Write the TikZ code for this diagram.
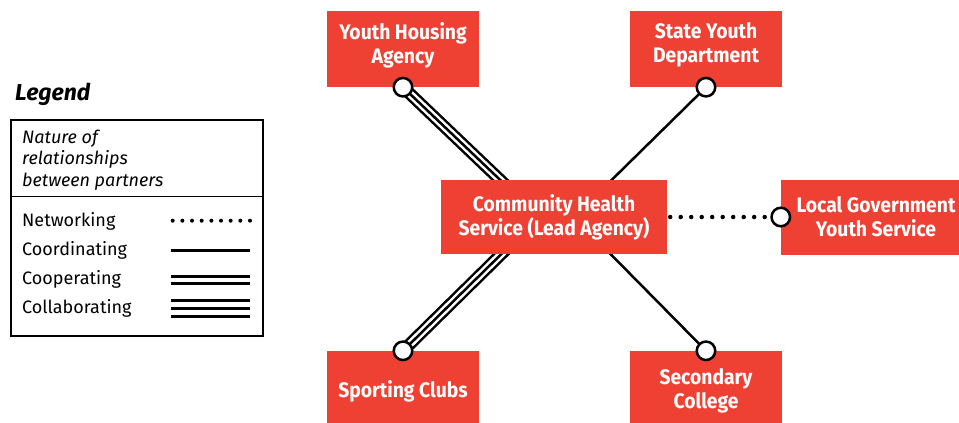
\documentclass[tikz,border=0pt]{standalone}
\usepackage{fontspec}
\setmainfont{Fira Sans}
\newfontfamily\agencyfont{Fira Sans}[FakeStretch=0.92]
\usetikzlibrary{positioning, backgrounds}
\definecolor{agencyred}{RGB}{239,64,52}
\tikzset{
agency/.style={fill=agencyred, text=white, align=center, inner sep=0pt, minimum width=152pt, minimum height=76pt, font=\agencyfont\bfseries\fontsize{21}{24}\selectfont}, % red partner boxes
lead/.style={agency, minimum width=226pt, minimum height=74pt}, % the lead agency in the middle
port/.style={circle, draw, fill=white, line width=2.5pt, minimum size=18.5pt, inner sep=0pt}, % white joint on a box
legtext/.style={inner sep=0pt, anchor=base west, font=\fontsize{18}{21.5}\selectfont},
networking/.style={line width=4.5pt, line cap=round, dash pattern=on 0pt off 10.5pt, dash phase=7.5pt},
coordinating/.style={line width=2.5pt},
collaborating/.style={line width=2.5pt, preaction={draw, line width=12.5pt}, preaction={draw, white, line width=7.5pt}},
key networking/.style={line width=4pt, line cap=round, dash pattern=on 0pt off 9.66pt},
key coordinating/.style={line width=2.7pt},
key cooperating/.style={double, line width=2.7pt, double distance=4pt},
key collaborating/.style={line width=2.7pt, preaction={draw, line width=18.7pt}, preaction={draw, white, line width=13.3pt}},
}
\begin{document}
\begin{tikzpicture}[x=1pt, y=-1pt, on grid]
  \useasboundingbox (0,0) rectangle (959,423);

  % Partners
  \node[lead] (ch) at (554,217) {Community Health\\Service (Lead Agency)};
  \node[agency, text depth=12pt, above left=168pt and 151pt of ch] (yh) {Youth Housing\\Agency};
  \node[agency, text depth=12pt, above right=168pt and 152pt of ch] (sy) {State Youth\\Department};
  \node[agency, text depth=0pt, below left=172pt and 151pt of ch] (sc) {Sporting Clubs};
  \node[agency, text depth=0pt, below right=172pt and 152pt of ch] (se) {Secondary\\College};
  \node[agency, right=322pt of ch, minimum width=190pt, minimum height=75pt] (lg) {Local Government\\Youth Service};

  % Joints
  \node[port] (yhp) at (yh.south) {};
  \node[port] (syp) at (sy.south) {};
  \node[port] (scp) at (sc.north) {};
  \node[port] (sep) at (se.north) {};
  \node[port] (lgp) at (lg.west) {};

  % Relationships
  \begin{scope}[on background layer]
    \draw[collaborating] (yhp.center) -- ([xshift=-15pt]ch.center);
    \draw[collaborating] (scp.center) -- ([xshift=-15pt]ch.center);
    \draw[coordinating] (syp.center) -- ([xshift=20pt]ch.center);
    \draw[coordinating] (sep.center) -- ([xshift=20pt]ch.center);
  \end{scope}
  \draw[networking] (ch.east) -- (lgp);

  % Legend
  \node[legtext, font=\bfseries\itshape\fontsize{23}{26}\selectfont] (legtitle) at (15,100) {Legend};
  \node[draw, line width=1.3pt, minimum width=252pt, minimum height=216pt, inner sep=0pt] (legbox) at (137,228) {};
  \draw[line width=1.3pt] ([yshift=-77pt]legbox.north west) -- ([yshift=-77pt]legbox.north east);
  \node[legtext, font=\itshape\fontsize{18}{21.5}\selectfont] (nature) at (22,143) {Nature of};
  \node[legtext, font=\itshape\fontsize{18}{21.5}\selectfont] (relations) at (22,164.5) {relationships};
  \node[legtext, font=\itshape\fontsize{18}{21.5}\selectfont] (between) at (22,186) {between partners};

  \node[legtext] (net) at (22,226) {Networking};
  \node[legtext] (coord) at (22,255.5) {Coordinating};
  \node[legtext] (coop) at (22,284) {Cooperating};
  \node[legtext] (collab) at (22,313) {Collaborating};
  \draw[key networking] (172.7,220.7) -- (250.5,220.7);
  \draw[key coordinating] (171,250.3) -- (250,250.3);
  \draw[key cooperating] (171,280) -- (250,280);
  \draw[key collaborating] (171,308.7) -- (250,308.7);
\end{tikzpicture}
\end{document}
